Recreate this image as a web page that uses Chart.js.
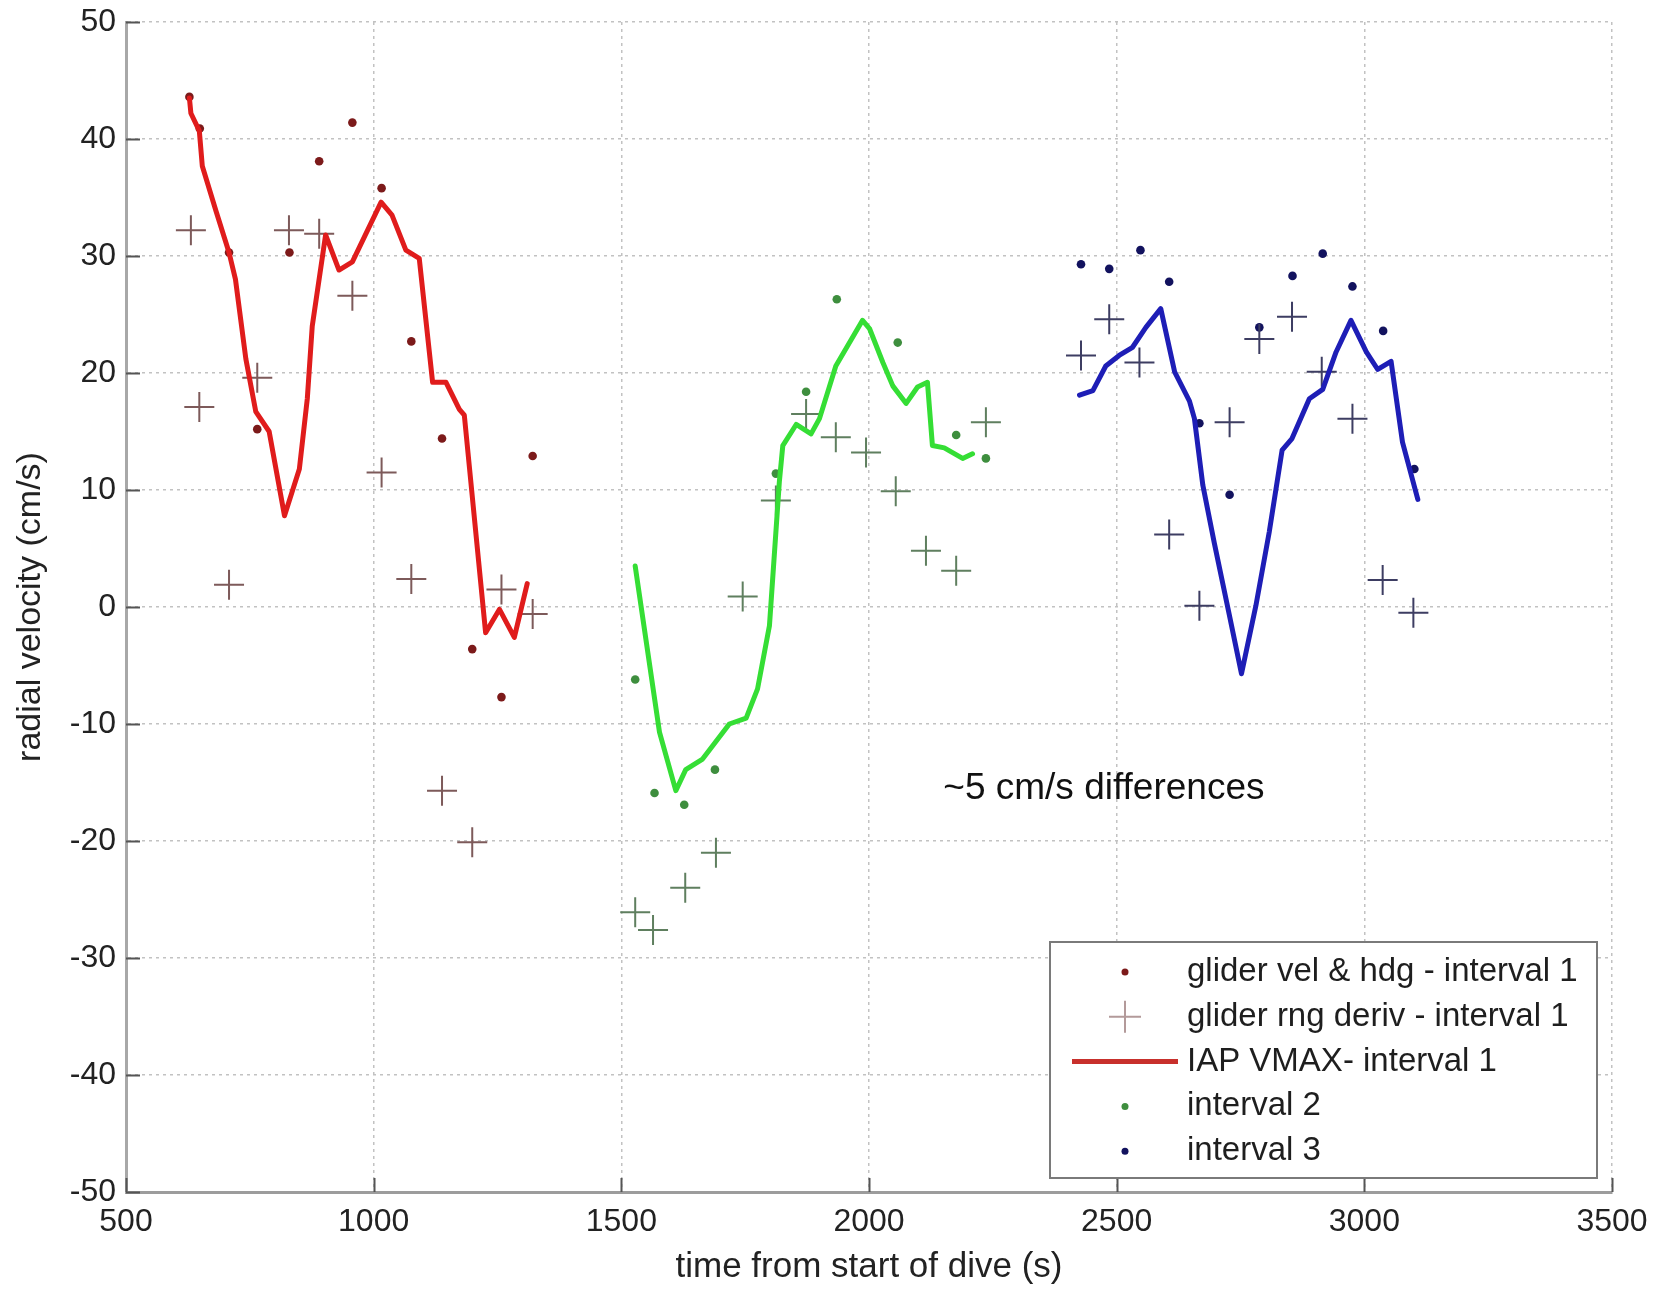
<!DOCTYPE html>
<html>
<head>
<meta charset="utf-8">
<script src="https://cdn.jsdelivr.net/npm/chart.js@4.4.0/dist/chart.umd.min.js"></script>
<style>
html,body{margin:0;padding:0;background:#ffffff;}
canvas{display:block;}
</style>
</head>
<body>
<canvas id="c" width="1669" height="1291"></canvas>
<script>
// ---------- data ----------
const xTickValues = [500, 1000, 1500, 2000, 2500, 3000, 3500];
const yTickValues = [-50, -40, -30, -20, -10, 0, 10, 20, 30, 40, 50];

const xAxisTitle = 'time from start of dive (s)';
const yAxisTitle = 'radial velocity (cm/s)';
const noteText = '~5 cm/s differences';
const noteX = 2150;
const noteY = -15.5;

// interval 1 (red)
const red1DotX = [628, 649, 708, 765, 830, 890, 957, 1016, 1076, 1138, 1199, 1258, 1321];
const red1DotY = [43.6, 40.9, 30.3, 15.2, 30.3, 38.1, 41.4, 35.8, 22.7, 14.4, -3.6, -7.7, 12.9];
const red1CrossX = [631, 648, 708, 765, 829, 890, 957, 1016, 1076, 1138, 1199, 1258, 1321];
const red1CrossY = [32.2, 17.1, 1.9, 19.6, 32.2, 31.9, 26.6, 11.5, 2.4, -15.7, -20.1, 1.5, -0.6];
const red1LineX = [628, 631, 648, 654, 682, 708, 721, 742, 762, 789, 820, 850, 866, 876, 903, 930, 957, 1015, 1037, 1065, 1092, 1119, 1146, 1173, 1183, 1226, 1254, 1284, 1310];
const red1LineY = [43.5, 42.2, 40.7, 37.7, 33.8, 30.3, 28.0, 21.2, 16.7, 15.0, 7.8, 11.8, 17.8, 24.0, 31.8, 28.8, 29.5, 34.6, 33.5, 30.5, 29.8, 19.2, 19.2, 16.9, 16.4, -2.2, -0.2, -2.6, 2.0];

// interval 2 (green)
const green2DotX = [1528, 1567, 1627, 1689, 1812, 1873, 1935, 2058, 2176, 2236];
const green2DotY = [-6.2, -15.9, -16.9, -13.9, 11.4, 18.4, 26.3, 22.6, 14.7, 12.7];
const green2CrossX = [1528, 1564, 1629, 1691, 1745, 1812, 1873, 1933, 1994, 2054, 2115, 2176, 2236];
const green2CrossY = [-26.1, -27.6, -24.0, -21.0, 0.9, 9.1, 16.5, 14.5, 13.2, 9.9, 4.8, 3.1, 15.8];
const green2LineX = [1528, 1577, 1610, 1630, 1664, 1718, 1752, 1775, 1799, 1819, 1826, 1853, 1883, 1900, 1933, 1987, 2001, 2028, 2048, 2075, 2098, 2118, 2128, 2152, 2189, 2209];
const green2LineY = [3.5, -10.7, -15.7, -13.9, -13.0, -10.0, -9.5, -7.0, -1.6, 10.7, 13.8, 15.6, 14.8, 16.1, 20.6, 24.5, 23.8, 20.9, 18.9, 17.4, 18.8, 19.2, 13.8, 13.6, 12.7, 13.1];

// interval 3 (blue)
const blue3DotX = [2428, 2485, 2548, 2606, 2667, 2728, 2788, 2855, 2916, 2976, 3038, 3101];
const blue3DotY = [29.3, 28.9, 30.5, 27.8, 15.7, 9.6, 23.9, 28.3, 30.2, 27.4, 23.6, 11.8];
const blue3CrossX = [2428, 2485, 2546, 2606, 2667, 2728, 2788, 2854, 2914, 2976, 3037, 3099];
const blue3CrossY = [21.5, 24.6, 20.9, 6.2, 0.1, 15.8, 22.9, 24.8, 20.1, 16.1, 2.3, -0.5];
const blue3LineX = [2425, 2452, 2478, 2505, 2532, 2559, 2589, 2617, 2647, 2657, 2674, 2697, 2728, 2752, 2781, 2808, 2834, 2854, 2889, 2916, 2943, 2973, 3004, 3027, 3054, 3077, 3108];
const blue3LineY = [18.1, 18.5, 20.6, 21.5, 22.2, 23.9, 25.5, 20.1, 17.6, 16.1, 10.4, 5.5, -0.8, -5.7, 0.1, 6.4, 13.4, 14.4, 17.8, 18.6, 21.8, 24.5, 21.8, 20.3, 21.0, 14.1, 9.2];

const legendLabels = ['glider vel & hdg - interval 1', 'glider rng deriv - interval 1', 'IAP VMAX- interval 1', 'interval 2', 'interval 3'];

// ---------- styling ----------
const FONT = "'Liberation Sans', Arial, Helvetica, sans-serif";

function pts(xs, ys) { return xs.map((x, i) => ({x: x, y: ys[i]})); }

function dotSet(label, xs, ys, color) {
  return {label: label, kind: 'dot', data: pts(xs, ys), showLine: false,
    pointStyle: 'circle', pointRadius: 4.3, pointBorderWidth: 0,
    pointBackgroundColor: color, backgroundColor: color, borderColor: color, order: 2};
}
function crossSet(label, xs, ys, color) {
  return {label: label, kind: 'cross', data: pts(xs, ys), showLine: false,
    pointStyle: 'cross', pointRadius: 15, pointBorderWidth: 2,
    pointBorderColor: color, borderColor: color, backgroundColor: color, order: 1};
}
function lineSet(label, xs, ys, color) {
  return {label: label, kind: 'line', data: pts(xs, ys), showLine: true,
    borderColor: color, borderWidth: 5, pointRadius: 0, fill: false,
    borderJoinStyle: 'round', borderCapStyle: 'round', tension: 0, order: 0};
}

const datasets = [
  dotSet(legendLabels[0], red1DotX, red1DotY, '#7c1a1a'),
  crossSet(legendLabels[1], red1CrossX, red1CrossY, '#7d5a5a'),
  lineSet(legendLabels[2], red1LineX, red1LineY, '#e01c1c'),
  dotSet(legendLabels[3], green2DotX, green2DotY, '#3e8e3e'),
  crossSet('', green2CrossX, green2CrossY, '#5f7f5f'),
  lineSet('', green2LineX, green2LineY, '#35de35'),
  dotSet(legendLabels[4], blue3DotX, blue3DotY, '#12125e'),
  crossSet('', blue3CrossX, blue3CrossY, '#3d3d62'),
  lineSet('', blue3LineX, blue3LineY, '#1e1eb6')
];

// inward tick marks (MATLAB style)
const inwardTicks = {
  id: 'inwardTicks',
  afterDatasetsDraw(chart) {
    const {ctx, chartArea, scales} = chart;
    ctx.save();
    ctx.strokeStyle = '#555';
    ctx.lineWidth = 2;
    ctx.beginPath();
    yTickValues.forEach(v => {
      const y = Math.round(scales.y.getPixelForValue(v)) + 0.5;
      ctx.moveTo(chartArea.left, y); ctx.lineTo(chartArea.left + 14, y);
    });
    xTickValues.forEach(v => {
      const x = Math.round(scales.x.getPixelForValue(v)) + 0.5;
      ctx.moveTo(x, chartArea.bottom); ctx.lineTo(x, chartArea.bottom - 14);
    });
    ctx.stroke();
    ctx.restore();
  }
};

// annotation text
const notePlugin = {
  id: 'note',
  afterDraw(chart) {
    const {ctx, scales} = chart;
    ctx.save();
    ctx.font = '37px ' + FONT;
    ctx.fillStyle = '#111';
    ctx.textAlign = 'left';
    ctx.textBaseline = 'middle';
    ctx.fillText(noteText, scales.x.getPixelForValue(noteX), scales.y.getPixelForValue(noteY));
    ctx.restore();
  }
};

// legend box inside the axes (lower right)
const boxLegend = {
  id: 'boxLegend',
  afterDraw(chart) {
    const {ctx, chartArea} = chart;
    const w = 547, h = 236;
    const right = chartArea.right - 15, bottom = chartArea.bottom - 14;
    const left = right - w, top = bottom - h;
    ctx.save();
    ctx.fillStyle = '#ffffff';
    ctx.fillRect(left, top, w, h);
    ctx.strokeStyle = '#7a7a7a';
    ctx.lineWidth = 2;
    ctx.strokeRect(left, top, w, h);
    const items = chart.data.datasets.filter(d => d.label);
    items.forEach((d, i) => {
      const cy = top + 30 + i * 44.8;
      const mx = left + 75;
      if (d.kind === 'dot') {
        ctx.fillStyle = d.pointBackgroundColor;
        ctx.beginPath(); ctx.arc(mx, cy, 3.5, 0, Math.PI * 2); ctx.fill();
      } else if (d.kind === 'cross') {
        ctx.strokeStyle = '#b39a9a';
        ctx.lineWidth = 2;
        ctx.beginPath();
        ctx.moveTo(mx - 16, cy); ctx.lineTo(mx + 16, cy);
        ctx.moveTo(mx, cy - 16); ctx.lineTo(mx, cy + 16);
        ctx.stroke();
      } else {
        ctx.strokeStyle = '#c8302c';
        ctx.lineWidth = 5;
        ctx.beginPath(); ctx.moveTo(left + 22, cy); ctx.lineTo(left + 128, cy); ctx.stroke();
      }
      ctx.fillStyle = '#1e1e1e';
      ctx.font = '33px ' + FONT;
      ctx.textAlign = 'left';
      ctx.textBaseline = 'middle';
      ctx.fillText(d.label, left + 137, cy);
    });
    ctx.restore();
  }
};

const gridStyle = {color: '#c2c2c2', lineWidth: 1.5, drawTicks: false};

new Chart(document.getElementById('c'), {
  type: 'scatter',
  data: {datasets: datasets},
  options: {
    responsive: false,
    animation: false,
    devicePixelRatio: 1,
    layout: {padding: {left: 0, right: 57, top: 22, bottom: 0}},
    plugins: {legend: {display: false}, tooltip: {enabled: false}},
    scales: {
      x: {
        type: 'linear', min: 500, max: 3500,
        afterBuildTicks: s => { s.ticks = xTickValues.map(v => ({value: v})); },
        afterFit: s => { s.height = 99; },
        ticks: {callback: v => String(v), font: {family: FONT, size: 32, lineHeight: 1}, color: '#222', padding: 14, maxRotation: 0, autoSkip: false},
        grid: gridStyle,
        border: {display: true, color: '#9c9c9c', width: 3, dash: [3, 4]},
        title: {display: true, text: xAxisTitle, font: {family: FONT, size: 35, lineHeight: 1.2}, color: '#222', padding: {top: 0, bottom: 3}}
      },
      y: {
        type: 'linear', min: -50, max: 50,
        afterBuildTicks: s => { s.ticks = yTickValues.map(v => ({value: v})); },
        afterFit: s => { s.width = 126; },
        ticks: {callback: v => String(v), font: {family: FONT, size: 32, lineHeight: 0.5}, color: '#222', padding: 10, autoSkip: false},
        grid: gridStyle,
        border: {display: true, color: '#a8a8a8', width: 3, dash: [3, 4]},
        title: {display: true, text: yAxisTitle, font: {family: FONT, size: 34, lineHeight: 1.2}, color: '#222', padding: {top: 10, bottom: 0}}
      }
    }
  },
  plugins: [inwardTicks, notePlugin, boxLegend]
});
</script>
</body>
</html>
